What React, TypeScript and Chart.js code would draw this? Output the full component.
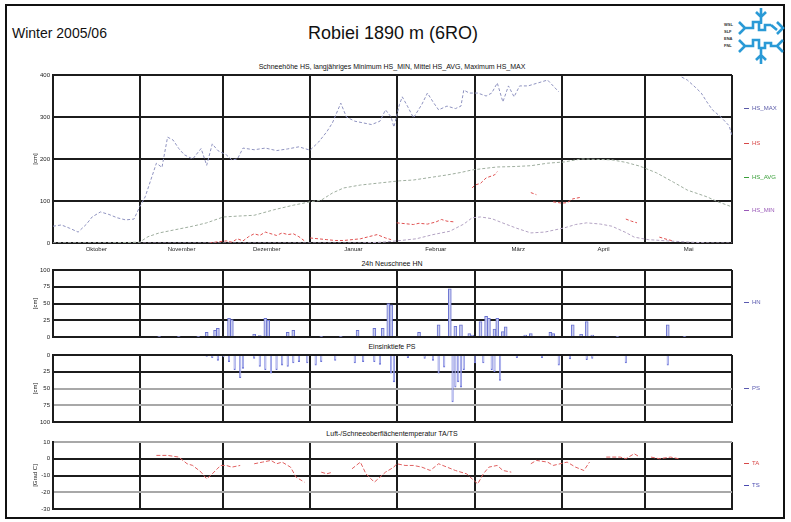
import React, { useEffect, useRef } from "react";
import { Chart, registerables } from "chart.js";
Chart.register(...registerables);

const FONT = "'Liberation Sans', Arial, Helvetica, sans-serif";

// ---- axes / categories ----
const monthNames = ["Oktober", "November", "Dezember", "Januar", "Februar", "März", "April", "Mai"];
const monthStarts = [0, 31, 61, 92, 123, 151, 182, 212, 243]; // day index from 1 Oct
const hsTicks = [0, 100, 200, 300, 400];
const hnTicks = [0, 25, 50, 75, 100];
const tTicks = [-30, -20, -10, 0, 10];

// ---- Schneehöhe (day index, cm) ----
const hsMaxDays = [0, 3, 6, 9, 12, 14, 17, 20, 23, 26, 29, 31, 33, 35, 37, 39, 41, 43, 45, 47, 50, 53, 55, 57, 59, 62, 64, 66, 68, 72, 76, 80, 84, 88, 92, 95, 98, 100, 103, 105, 108, 111, 114, 117, 119, 121, 122, 124, 125, 127, 129, 132, 134, 136, 138, 141, 144, 146, 147, 149, 152, 155, 157, 159, 161, 163, 165, 167, 170, 173, 177, 181, 200, 225, 227, 230, 232, 234, 236, 239, 242, 243];
const hsMaxVals = [40, 43, 35, 26, 45, 62, 74, 68, 60, 55, 57, 86, 110, 150, 190, 180, 252, 245, 225, 210, 200, 225, 185, 236, 220, 210, 198, 200, 226, 222, 226, 220, 224, 229, 221, 240, 265, 286, 333, 300, 290, 286, 282, 290, 317, 300, 276, 330, 348, 324, 298, 330, 357, 336, 317, 326, 320, 326, 364, 357, 357, 350, 357, 381, 336, 374, 348, 374, 374, 380, 388, 360, null, 395, 388, 370, 357, 336, 317, 300, 279, 255];

const hsAvgDays = [0, 10, 20, 31, 34, 38, 44, 50, 55, 61, 66, 72, 79, 86, 92, 96, 100, 104, 110, 117, 124, 129, 135, 141, 146, 150, 155, 159, 165, 171, 177, 183, 189, 195, 200, 205, 210, 216, 222, 227, 234, 238, 243];
const hsAvgVals = [0, 0, 0, 2, 15, 24, 32, 40, 48, 62, 64, 66, 79, 90, 98, 102, 119, 131, 138, 143, 148, 150, 156, 162, 168, 174, 178, 181, 182, 184, 190, 193, 200, 199, 198, 192, 183, 167, 145, 126, 110, 98, 86];

const hsMinDays = [0, 31, 61, 92, 110, 118, 123, 130, 136, 142, 147, 150, 153, 157, 162, 166, 171, 176, 183, 187, 191, 196, 200, 205, 208, 213, 220, 228, 235, 243];
const hsMinVals = [0, 0, 0, 0, 0, 2, 5, 10, 20, 28, 45, 60, 62, 58, 45, 35, 24, 26, 36, 44, 48, 45, 40, 25, 14, 8, 5, 2, 0, 0];

const hsDays = [56, 58, 62, 64, 66, 68, 70, 72, 74, 76, 78, 80, 82, 84, 86, 88, 90, 91, 92, 95, 98, 101, 104, 107, 110, 113, 116, 119, 121, 122, 123, 126, 129, 131, 134, 137, 139, 141, 144, 148, 150, 151, 153, 155, 158, 159, 162, 165, 168, 171, 173, 176, 179, 182, 184, 186, 189, 192, 205, 207, 209, 212, 217, 220, 222];
const hsVals = [0, 2, 5, 2, 10, 5, 15, 22, 18, 26, 22, 18, 24, 20, 22, 15, 5, null, 12, 10, 8, 6, 6, 8, 10, 15, 20, 12, 8, null, 48, 46, 44, 47, 45, 50, 56, 52, 50, null, 131, 138, 142, 155, 162, 170, null, 133, null, 120, 115, null, 98, 95, 96, 105, 109, null, 57, 52, 48, null, 14, 8, 5];

// ---- 24h Neuschnee HN (day index, cm) ----
const hnDays = [38, 45, 52, 55, 58, 59, 63, 64, 72, 74, 76, 77, 84, 86, 96, 103, 109, 115, 118, 120, 121, 131, 138, 142, 144, 146, 149, 150, 153, 155, 156, 158, 159, 161, 162, 169, 171, 178, 179, 186, 189, 191, 193, 202, 220, 226];
const hnVals = [1, 1, 1, 7, 10, 13, 28, 26, 4, 2, 28, 25, 7, 10, 1, 1, 10, 13, 13, 50, 48, 7, 18, 72, 16, 18, 5, 3, 23, 31, 28, 12, 28, 8, 15, 3, 5, 7, 5, 18, 4, 23, 3, 1, 18, 1];

// ---- Einsinktiefe PS (day index, cm) ----
const psDays = [55, 57, 59, 61, 63, 65, 67, 68, 72, 74, 76, 78, 80, 82, 84, 86, 88, 91, 94, 96, 101, 108, 111, 115, 117, 121, 122, 127, 133, 136, 138, 140, 143, 144, 145, 146, 147, 151, 154, 157, 158, 160, 166, 175, 181, 185, 191, 193, 205, 220];
const psVals = [2, 4, 8, 3, 10, 22, 34, 20, 5, 17, 22, 27, 22, 15, 17, 12, 10, 12, 15, 10, 8, 12, 10, 10, 14, 27, 40, 4, 5, 8, 27, 18, 70, 48, 40, 48, 22, 12, 12, 22, 25, 38, 4, 4, 15, 6, 7, 5, 12, 15];

// ---- Lufttemperatur TA (day index, °C) ----
const taDays = [37, 41, 45, 48, 50, 53, 55, 57, 60, 62, 64, 67, 70, 72, 75, 78, 80, 82, 85, 87, 90, 93, 96, 98, 100, 103, 107, 110, 112, 115, 117, 119, 122, 123, 126, 129, 132, 135, 138, 141, 144, 148, 152, 154, 156, 159, 161, 164, 167, 171, 173, 177, 179, 184, 187, 190, 192, 195, 198, 203, 205, 208, 210, 212, 214, 217, 221, 224];
const taVals = [2, 2, 1, -3, -4, -8, -12, -9, -4, -4, -5, -4, null, -3, -2, -1, -3, -2, -5, -11, -14, null, -8, -9, -8, null, -6, -2, -9, -14, -11, -8, -5, -3, -4, -4, -5, -7, -3, -5, -7, -9, -15, -9, -5, -4, -7, -8, null, -3, -1, -2, -4, -2, -5, -7, -2, null, 1, 1, 0, 3, 1, null, 1, 0, 1, 0];

const xy = (d: number[], v: (number | null)[]) => d.map((x, i) => ({ x, y: v[i] }));

const GRID = "#1c1c1c";
const GRAY = "#a8a8a8";
const PLOT_LEFT = 53;
const PLOT_RIGHT_PAD = 59;

function boundaryTicks(axis: any) {
  axis.ticks = monthStarts.map((v) => ({ value: v }));
}
function centerTicks(axis: any) {
  axis.ticks = monthStarts.slice(0, -1).map((v, i) => ({ value: (v + monthStarts[i + 1]) / 2 }));
}

// draws y tick labels and rotated y title through the library's y scale
const yLabelPlugin = {
  id: "yLabels",
  afterDraw(chart: any, _a: any, opts: any) {
    const ctx = chart.ctx;
    const ys = chart.scales.y;
    const area = chart.chartArea;
    ctx.save();
    ctx.font = `6px ${FONT}`;
    ctx.fillStyle = "#222";
    ctx.textAlign = "right";
    ctx.textBaseline = "middle";
    (opts.ticks || []).forEach((v: number) => ctx.fillText(String(v), area.left - 3, ys.getPixelForValue(v)));
    ctx.translate(35, (area.top + area.bottom) / 2);
    ctx.rotate(-Math.PI / 2);
    ctx.textAlign = "center";
    ctx.fillText(opts.title || "", 0, 0);
    ctx.restore();
  },
};

function xGridAxis() {
  return {
    type: "linear",
    min: 0,
    max: 243,
    offset: false,
    position: "bottom",
    afterBuildTicks: boundaryTicks,
    ticks: { display: false },
    grid: { color: GRID, lineWidth: 2, drawTicks: false, offset: false },
    border: { color: GRID, width: 2 },
    afterFit: (a: any) => {
      a.height = 0;
    },
  };
}

function yAxis(ticks: number[], opts: any = {}) {
  return {
    type: "linear",
    min: ticks[0],
    max: ticks[ticks.length - 1],
    reverse: !!opts.reverse,
    afterBuildTicks: (axis: any) => {
      axis.ticks = ticks.map((v) => ({ value: v }));
    },
    ticks: { display: false },
    grid: {
      drawTicks: false,
      lineWidth: 2,
      color: (c: any) => (opts.gray && opts.gray.includes(c.tick?.value) ? GRAY : GRID),
    },
    border: { color: GRID, width: 2 },
    title: { display: false },
    afterFit: (a: any) => {
      a.width = 0;
    },
  };
}

function plugins(ticks: number[], title: string) {
  return { legend: { display: false }, tooltip: { enabled: false }, title: { display: false }, yLabels: { ticks, title } };
}

function hsConfig(): any {
  return {
    type: "line",
    data: {
      datasets: [
        { label: "HS_MAX", data: xy(hsMaxDays, hsMaxVals), borderColor: "#8f93c0", borderWidth: 1, borderDash: [3, 2], pointRadius: 0, spanGaps: false },
        { label: "HS_AVG", data: xy(hsAvgDays, hsAvgVals), borderColor: "#9fae9f", borderWidth: 1, borderDash: [3, 2], pointRadius: 0 },
        { label: "HS_MIN", data: xy(hsMinDays, hsMinVals), borderColor: "#b3a3c3", borderWidth: 1, borderDash: [3, 2], pointRadius: 0 },
        { label: "HS", data: xy(hsDays, hsVals), borderColor: "#e05050", borderWidth: 1, borderDash: [3, 2], pointRadius: 0, spanGaps: false },
      ],
    },
    options: {
      animation: false,
      responsive: false,
      devicePixelRatio: 1,
      layout: { padding: { left: PLOT_LEFT, right: PLOT_RIGHT_PAD, top: 7, bottom: 0 } },
      plugins: plugins(hsTicks, "[cm]"),
      scales: {
        x: xGridAxis(),
        xm: {
          type: "linear",
          min: 0,
          max: 243,
          position: "bottom",
          afterBuildTicks: centerTicks,
          grid: { display: false, drawTicks: false },
          border: { display: false },
          ticks: {
            font: { family: FONT, size: 6 },
            color: "#222",
            padding: 3,
            maxRotation: 0,
            autoSkip: false,
            callback: (_v: any, i: number) => monthNames[i],
          },
          afterFit: (a: any) => {
            a.height = 17;
          },
        },
        y: yAxis(hsTicks),
      },
    },
    plugins: [yLabelPlugin],
  };
}

function barConfig(days: number[], vals: number[], reverse: boolean, fill: string, border: string, thick: number, title: string): any {
  return {
    type: "bar",
    data: {
      datasets: [{ data: xy(days, vals), backgroundColor: fill, borderColor: border, borderWidth: 1, barThickness: thick }],
    },
    options: {
      animation: false,
      responsive: false,
      devicePixelRatio: 1,
      layout: { padding: { left: PLOT_LEFT, right: PLOT_RIGHT_PAD, top: 7, bottom: 6 } },
      plugins: plugins(hnTicks, title),
      scales: {
        x: xGridAxis(),
        y: yAxis(hnTicks, { reverse, gray: reverse ? [50, 75] : [] }),
      },
    },
    plugins: [yLabelPlugin],
  };
}

function taConfig(): any {
  return {
    type: "line",
    data: {
      datasets: [
        { label: "TA", data: xy(taDays, taVals), borderColor: "#e06060", borderWidth: 1, borderDash: [4, 2], pointRadius: 0, spanGaps: false },
      ],
    },
    options: {
      animation: false,
      responsive: false,
      devicePixelRatio: 1,
      layout: { padding: { left: PLOT_LEFT, right: PLOT_RIGHT_PAD, top: 7, bottom: 6 } },
      plugins: plugins(tTicks, "[Grad C]"),
      scales: {
        x: xGridAxis(),
        y: yAxis(tTicks, { gray: [10, -20, -30] }),
      },
    },
    plugins: [yLabelPlugin],
  };
}

function Panel({ top, height, make }: { top: number; height: number; make: () => any }) {
  const ref = useRef<HTMLCanvasElement>(null);
  useEffect(() => {
    const c = new Chart(ref.current as HTMLCanvasElement, make());
    return () => c.destroy();
  }, []);
  return <canvas ref={ref} width={791} height={height} style={{ position: "absolute", left: 0, top, width: 791, height }} />;
}

const txt = (s: any): any => ({ position: "absolute", fontFamily: FONT, whiteSpace: "nowrap", lineHeight: 1, ...s });

function PanelTitle({ y, text }: { y: number; text: string }) {
  return <div style={txt({ left: 392, top: y - 4, fontSize: 7, color: "#111", transform: "translateX(-50%)" })}>{text}</div>;
}

function LegendItem({ y, label, color }: { y: number; label: string; color: string }) {
  return (
    <div style={txt({ left: 744, top: y - 3, fontSize: 6, color })}>
      <span style={{ display: "inline-block", width: 5, height: 1, background: color, verticalAlign: "middle", marginRight: 3 }} />
      {label}
    </div>
  );
}

function Logo() {
  const b = "#2a9ad6";
  return (
    <>
      <div style={txt({ left: 724, top: 21, fontSize: 4, color: "#333", lineHeight: "7px", fontWeight: "bold" })}>
        WSL
        <br />
        SLF
        <br />
        ENA
        <br />
        FNL
      </div>
      <svg style={{ position: "absolute", left: 736, top: 6 }} width={50} height={60} viewBox="0 0 50 60">
        <g fill="none" stroke={b} strokeWidth={2.6} strokeLinejoin="miter">
          <path d="M25 2 V18 M20 6 L25 11 L30 6" />
          <path d="M25 42 V58 M20 54 L25 49 L30 54" />
          <path d="M3 16 L9 22 L3 28 M9 22 H17 V16 H23 V24 H29 V19 H35 M35 19 L41 24 M41 16 L47 22 L41 28" />
          <path d="M3 34 L9 40 L3 46 M9 40 H17 V34 H23 V42 H29 V37 H35 V40 H41 M47 34 L41 40 L47 46" />
        </g>
      </svg>
    </>
  );
}

export default function App() {
  return (
    <div style={{ position: "fixed", left: 0, top: 0, width: 791, height: 522, background: "#fff", overflow: "hidden" }}>
      <div style={{ position: "absolute", left: 5, top: 4, width: 780, height: 515, border: "2px solid #111", boxSizing: "border-box" }} />
      <div style={txt({ left: 12, top: 26, fontSize: 14, color: "#111" })}>Winter 2005/06</div>
      <div style={txt({ left: 393, top: 24, fontSize: 18, color: "#111", transform: "translateX(-50%)" })}>Robiei 1890 m (6RO)</div>
      <Logo />

      <PanelTitle y={67} text="Schneehöhe HS, langjähriges Minimum HS_MIN, Mittel HS_AVG, Maximum HS_MAX" />
      <Panel top={68} height={192} make={hsConfig} />
      <LegendItem y={108} label="HS_MAX" color="#5a5aa8" />
      <LegendItem y={143} label="HS" color="#d84848" />
      <LegendItem y={177} label="HS_AVG" color="#3aa03a" />
      <LegendItem y={210} label="HS_MIN" color="#9a5ab8" />

      <PanelTitle y={264} text="24h Neuschnee HN" />
      <Panel top={263} height={80} make={() => barConfig(hnDays, hnVals, false, "#c9cdf0", "#6a72d0", 3, "[cm]")} />
      <LegendItem y={302} label="HN" color="#5a5ab0" />

      <PanelTitle y={347} text="Einsinktiefe PS" />
      <Panel top={348} height={80} make={() => barConfig(psDays, psVals, true, "#b8bdf0", "#6a72d8", 1.5, "[cm]")} />
      <LegendItem y={388} label="PS" color="#5a5ab0" />

      <PanelTitle y={434} text="Luft-/Schneeoberflächentemperatur TA/TS" />
      <Panel top={435} height={80} make={taConfig} />
      <LegendItem y={463} label="TA" color="#d84848" />
      <LegendItem y={485} label="TS" color="#4a4ab0" />
    </div>
  );
}
